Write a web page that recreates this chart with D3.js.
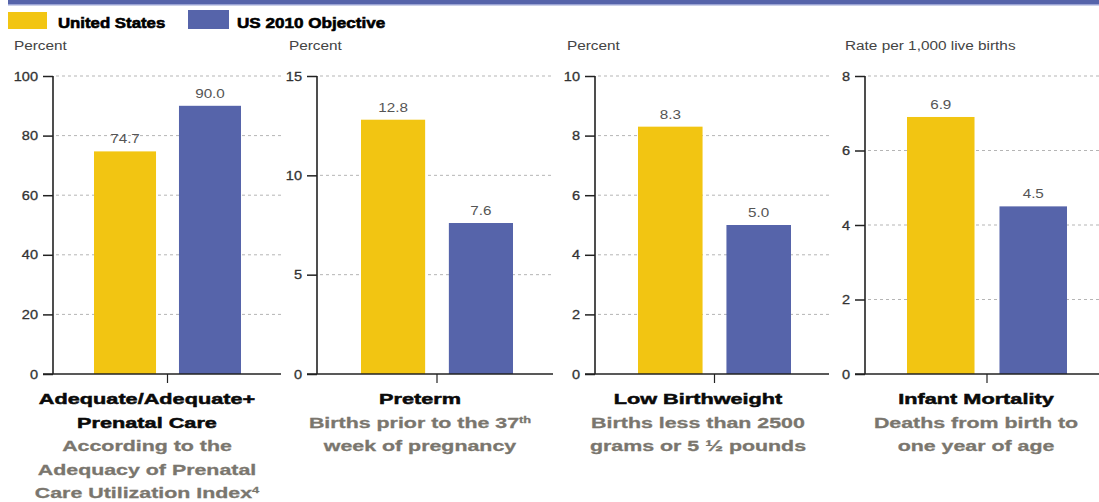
<!DOCTYPE html>
<html>
<head>
<meta charset="utf-8">
<script src="https://cdn.jsdelivr.net/npm/d3@7"></script>
<style>
  body { margin: 0; background: #fff; }
  svg { display: block; font-family: "Liberation Sans", Arial, Helvetica, sans-serif; }
</style>
</head>
<body>
<script>
// Chart data
const seriesNames = ["United States", "US 2010 Objective"];
const usValues = [74.7, 12.8, 8.3, 6.9];
const objectiveValues = [90.0, 7.6, 5.0, 4.5];
const yMaxima = [100, 15, 10, 8];
const yTicks = [[0, 20, 40, 60, 80, 100], [0, 5, 10, 15], [0, 2, 4, 6, 8, 10], [0, 2, 4, 6, 8]];
const unitLabels = ["Percent", "Percent", "Percent", "Rate per 1,000 live births"];
const panelTitles = [["Adequate/Adequate+", "Prenatal Care"], ["Preterm"], ["Low Birthweight"], ["Infant Mortality"]];
const panelNotes = [
  ["According to the", "Adequacy of Prenatal", "Care Utilization Index^4"],
  ["Births prior to the 37^th", "week of pregnancy"],
  ["Births less than 2500", "grams or 5 \u00bd pounds"],
  ["Deaths from birth to", "one year of age"]
];

const colors = ["#f2c512", "#5664aa"];
const width = 1099, height = 502;

// panel geometry: y axis, first bar left, last bar right, grid end, unit label x, title centre
const panels = [
  { axis: 53, b0: 94, b1: 241, end: 281, unitX: 14, cx: 147 },
  { axis: 317, b0: 361, b1: 513, end: 553, unitX: 289, cx: 420 },
  { axis: 595, b0: 638, b1: 791, end: 829, unitX: 567, cx: 698 },
  { axis: 865, b0: 907, b1: 1067, end: 1099, unitX: 845, cx: 976 }
];
const yTop = 76, yBottom = 374;

const svg = d3.select("body").append("svg")
  .attr("width", width)
  .attr("height", height);

// text drawn wider than the font, like the original
function addText(parent, x, y, str, opt) {
  const t = parent.append("text")
    .attr("transform", `translate(${x},${y}) scale(${opt.sx || 1},1)`)
    .attr("text-anchor", opt.anchor || "start")
    .attr("font-size", opt.size)
    .attr("font-weight", opt.weight || "normal")
    .attr("fill", opt.fill || "#333");
  if (opt.dy) t.attr("dy", opt.dy);
  if (opt.heavy) t.attr("stroke", opt.fill).attr("stroke-width", opt.heavy);
  const parts = str.split("^");
  t.append("tspan").text(parts[0]);
  if (parts[1]) {
    t.append("tspan").attr("baseline-shift", "super").attr("font-size", opt.size * 0.6).text(parts[1]);
  }
  return t;
}

// top band
svg.append("rect").attr("x", 8).attr("y", 0).attr("width", width - 8).attr("height", 4).attr("fill", "#5664aa");
svg.append("rect").attr("x", 8).attr("y", 4).attr("width", width - 8).attr("height", 1.5).attr("fill", "#9aa3d4");

// legend
svg.append("rect").attr("x", 8).attr("y", 12).attr("width", 39).attr("height", 17).attr("fill", colors[0]);
addText(svg, 58, 28, seriesNames[0], { size: 15, weight: "bold", fill: "#000", sx: 1.12, heavy: 0.6 });
svg.append("rect").attr("x", 188).attr("y", 10).attr("width", 41).attr("height", 19).attr("fill", colors[1]);
addText(svg, 237, 28, seriesNames[1], { size: 15, weight: "bold", fill: "#000", sx: 1.14, heavy: 0.6 });

panels.forEach((p, i) => {
  const g = svg.append("g");

  const y = d3.scaleLinear().domain([0, yMaxima[i]]).range([yBottom, yTop]);
  const x = d3.scaleBand().domain(seriesNames)
    .range([p.b0, p.b1]).paddingInner(0.27).paddingOuter(0);

  // unit label
  addText(g, p.unitX, 50, unitLabels[i], { size: 12, fill: "#444", sx: 1.28 });

  // dashed grid
  g.selectAll("line.grid")
    .data(yTicks[i].filter(v => v > 0))
    .enter().append("line")
    .attr("x1", p.axis + 3).attr("x2", p.end)
    .attr("y1", d => y(d)).attr("y2", d => y(d))
    .attr("stroke", "#b5b5b5").attr("stroke-width", 1)
    .attr("stroke-dasharray", "3,3");

  // bars
  const vals = [usValues[i], objectiveValues[i]];
  g.selectAll("rect.bar")
    .data(vals)
    .enter().append("rect")
    .attr("x", (d, j) => x(seriesNames[j]))
    .attr("y", d => y(d))
    .attr("width", x.bandwidth())
    .attr("height", d => yBottom - y(d))
    .attr("fill", (d, j) => colors[j]);

  // value labels
  vals.forEach((v, j) => {
    addText(g, x(seriesNames[j]) + x.bandwidth() / 2, y(v) - 8, v.toFixed(1),
      { size: 12.5, anchor: "middle", fill: "#555", sx: 1.22 });
  });

  // y axis
  const yAxis = d3.axisLeft(y).tickValues(yTicks[i]).tickSize(10).tickPadding(5).tickFormat(d3.format("d"));
  const ax = g.append("g").attr("transform", `translate(${p.axis},0)`).call(yAxis);
  ax.select(".domain").remove();
  ax.selectAll(".tick line").attr("stroke", "#222").attr("stroke-width", 1.5);
  ax.selectAll(".tick text").remove();
  yTicks[i].forEach(t => {
    addText(g, p.axis - 15, y(t), String(t), { size: 13, anchor: "end", fill: "#333", sx: 1.12, dy: "0.36em", heavy: 0.3 });
  });
  g.append("line")
    .attr("x1", p.axis).attr("x2", p.axis)
    .attr("y1", yTop).attr("y2", yBottom)
    .attr("stroke", "#222").attr("stroke-width", 1.6);

  // baseline and centre tick
  g.append("line")
    .attr("x1", p.axis - 10).attr("x2", p.end)
    .attr("y1", yBottom).attr("y2", yBottom)
    .attr("stroke", "#222").attr("stroke-width", 1.6);
  const mid = (p.b0 + p.b1) / 2;
  g.append("line")
    .attr("x1", mid).attr("x2", mid)
    .attr("y1", yBottom).attr("y2", yBottom + 9)
    .attr("stroke", "#222").attr("stroke-width", 1.2);

  // titles
  let ly = 404;
  panelTitles[i].forEach(line => {
    addText(g, p.cx, ly, line, { size: 15.5, weight: "bold", anchor: "middle", fill: "#0a0a0a", sx: 1.4, heavy: 0.5 });
    ly += 23.5;
  });
  panelNotes[i].forEach(line => {
    addText(g, p.cx, ly, line, { size: 15.5, weight: "bold", anchor: "middle", fill: "#7a766e", sx: 1.38, heavy: 0.3 });
    ly += 23.5;
  });
});
</script>
</body>
</html>
